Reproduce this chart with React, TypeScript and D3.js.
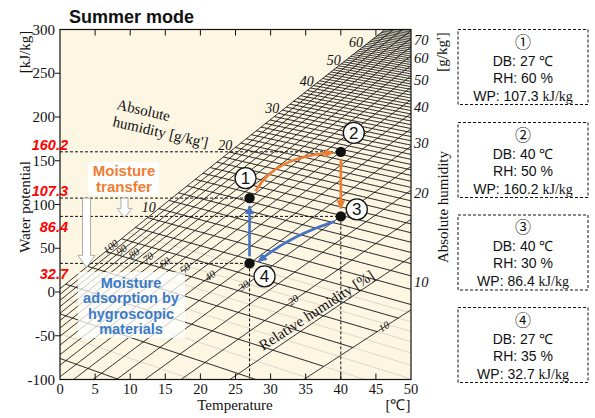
import React from 'react';
import * as d3 from 'd3';

// ---------- data ----------
const tempTicks = [0, 5, 10, 15, 20, 25, 30, 35, 40, 45, 50];
const wpTicks = [300, 250, 200, 150, 100, 50, 0, -50, -100];
const ahAxisLabels = [10, 20, 30, 40, 50, 60, 70];
const ahSatLabels = [10, 20, 30, 40, 50, 60];
const rhLevels = [10, 15, 20, 25, 30, 35, 40, 45, 50, 55, 60, 65, 70, 75, 80, 85, 90, 95, 100];
const rhLabels = [100, 90, 80, 70, 60, 50, 40, 30, 20, 10];
const ahLevels = d3.range(1, 81, 1);
const ahFineLevels = [0.5, 1.5, 2.5, 3.5, 4.5, 5.5, 6.5, 7.5];

const stateNames = ['①', '②', '③', '④'];
const stateDigits = ['1', '2', '3', '4'];
const stateDB = [27, 40, 40, 27];
const stateRH = [60, 50, 30, 35];
const stateWP = [107.3, 160.2, 86.4, 32.7];

// ---------- psychrometric helpers ----------
const psat = (T: number) => 0.61094 * Math.exp((17.625 * T) / (T + 243.04));
const rtm = (T: number) => (8.314 * (T + 273.15)) / 18.015;
const gT = (T: number) => 2.25 - 2.356 * (T - 27);
const mu = (T: number, pv: number) => rtm(T) * Math.log(pv) + gT(T);
const pvFromAH = (a: number) => (a * 101.325) / (622 + a);
const tDew = (pv: number) => {
  const a = Math.log(pv / 0.61094);
  return (243.04 * a) / (17.625 - a);
};

const ORANGE = '#EE7E32';
const BLUE = '#4472C4';
const SERIF = '"Liberation Serif", "Times New Roman", serif';
const SANS = '"Liberation Sans", Arial, sans-serif';

export default function App() {
  const x = d3.scaleLinear().domain([0, 50]).range([60, 411]);
  const y = d3.scaleLinear().domain([-100, 300]).range([379.5, 29.5]);
  const line = d3.line<[number, number]>().x((d) => x(d[0])).y((d) => y(d[1]));
  const [x0, x1] = x.range();
  const [y1, y0] = y.range();

  const sample = (t0: number, t1: number, f: (T: number) => number) => {
    const n = 40;
    const pts: [number, number][] = [];
    for (let i = 0; i <= n; i++) {
      const T = t0 + ((t1 - t0) * i) / n;
      pts.push([T, f(T)]);
    }
    return line(pts) || '';
  };

  const ahPath = (a: number, limitRH: boolean) => {
    const pv = pvFromAH(a);
    const t0 = Math.max(0, tDew(pv));
    const t1 = limitRH ? Math.min(50, tDew(pv * 10)) : 50;
    if (t1 <= t0) return '';
    return sample(t0, t1, (T) => mu(T, pv));
  };

  const rhPath = (rh: number) => sample(0, 50, (T) => mu(T, (rh / 100) * psat(T)));

  const P = stateDB.map((t, i) => [x(t), y(stateWP[i])] as [number, number]);

  const labelOffsets: [number, number][] = [
    [-4, -20],
    [13, -19],
    [16, -7],
    [15, 13],
  ];

  const boxTops = [29.5, 122.5, 215, 307.5];

  const rhLabelPos = rhLabels.map((rh) => {
    const T = tDew(1.02 / (rh / 100));
    const f = (t: number) => mu(t, (rh / 100) * psat(t));
    const px = x(T);
    const py = y(f(T));
    const dx = x(T + 0.5) - px;
    const dy = y(f(T + 0.5)) - py;
    const ang = (Math.atan2(dy, dx) * 180) / Math.PI;
    return { rh, px, py, ang };
  });

  const orangeCurve = `M${P[0][0] + 6},${P[0][1] - 7} Q${P[0][0] + 26},${P[1][1] + 4} ${P[1][0] - 8},${P[1][1] + 1}`;
  const blueCurve = `M${P[2][0] - 6},${P[2][1] + 5} Q${P[3][0] + 40},${P[2][1] + 19} ${P[3][0] + 9},${P[3][1] - 2}`;

  const whiteArrow = (cx: number, top: number, tip: number, hw: number, hh: number, headLen: number) => {
    const hs = tip - headLen;
    return `M${cx - hw},${top} L${cx + hw},${top} L${cx + hw},${hs} L${cx + hh},${hs} L${cx},${tip} L${cx - hh},${hs} L${cx - hw},${hs} Z`;
  };

  return (
    <svg width={595} height={418} style={{ position: 'absolute', left: 0, top: 0, background: '#fff' }}>
      <defs>
        <clipPath id="plot">
          <rect x={x0} y={y0} width={x1 - x0} height={y1 - y0} />
        </clipPath>
        <marker id="arrO" viewBox="0 0 10 10" refX="9" refY="5" markerWidth="9" markerHeight="9" markerUnits="userSpaceOnUse" orient="auto">
          <path d="M0,0 L10,5 L0,10 z" fill={ORANGE} />
        </marker>
        <marker id="arrB" viewBox="0 0 10 10" refX="9" refY="5" markerWidth="9" markerHeight="9" markerUnits="userSpaceOnUse" orient="auto">
          <path d="M0,0 L10,5 L0,10 z" fill={BLUE} />
        </marker>
      </defs>

      <rect x={x0} y={y0} width={x1 - x0} height={y1 - y0} fill="#FDF6E3" />

      <g clipPath="url(#plot)" fill="none">
        {ahLevels.concat(ahFineLevels).map((a) => (
          <path key={'g' + a} d={ahPath(a, false)} stroke="#cfccc3" strokeWidth={0.7} />
        ))}
        {ahLevels.map((a) => (
          <path key={'a' + a} d={ahPath(a, true)} stroke="#111" strokeWidth={0.85} />
        ))}
        {rhLevels.map((rh) => (
          <path key={'r' + rh} d={rhPath(rh)} stroke="#111" strokeWidth={0.85} />
        ))}
      </g>

      {rhLabelPos.map((d) => (
        <text
          key={'rl' + d.rh}
          transform={`translate(${d.px},${d.py}) rotate(${d.ang})`}
          textAnchor="middle"
          dy={3}
          fontFamily={SERIF}
          fontStyle="italic"
          fontSize={10.5}
          fill="#111"
        >
          {d.rh}
        </text>
      ))}

      {ahSatLabels.map((a) => {
        const pv = pvFromAH(a);
        const T = tDew(pv);
        return (
          <text key={'sl' + a} x={x(T) - 3} y={y(mu(T, pv)) + 3} textAnchor="end" fontFamily={SERIF} fontStyle="italic" fontSize={14} fill="#111">
            {a}
          </text>
        );
      })}

      <text transform="translate(116,109) rotate(13)" fontFamily={SERIF} fontSize={15} fill="#111">Absolute</text>
      <text transform="translate(112,126) rotate(13)" fontFamily={SERIF} fontSize={15} fill="#111">humidity [g/kg']</text>
      <text transform="translate(263,351) rotate(-33)" fontFamily={SERIF} fontSize={15} fill="#111">Relative humidity [%]</text>

      <g stroke="#111" strokeWidth={1} strokeDasharray="3,2" fill="none">
        {P.map((p, i) => (
          <line key={'h' + i} x1={x0} x2={p[0]} y1={p[1]} y2={p[1]} />
        ))}
        {[P[2], P[3]].map((p, i) => (
          <line key={'v' + i} x1={p[0]} x2={p[0]} y1={p[1]} y2={y1} />
        ))}
      </g>

      <rect x={88} y={162} width={71} height={33} fill="#fff" />
      <text x={124} y={176} textAnchor="middle" fontFamily={SANS} fontWeight="bold" fontSize={15} fill={ORANGE}>Moisture</text>
      <text x={124} y={192} textAnchor="middle" fontFamily={SANS} fontWeight="bold" fontSize={15} fill={ORANGE}>transfer</text>

      <rect x={78} y={272} width={107} height={66} fill="#fff" fillOpacity={0.75} />
      {['Moisture', 'adsorption by', 'hygroscopic', 'materials'].map((t, i) => (
        <text key={t} x={131} y={288 + i * 15.3} textAnchor="middle" fontFamily={SANS} fontWeight="bold" fontSize={14.5} fill="#3A7BC8">
          {t}
        </text>
      ))}

      <path d={whiteArrow(86.5, y(stateWP[0]), y(stateWP[3]) + 4, 4, 8.5, 12)} fill="#fff" stroke="#9a9a9a" strokeWidth={0.8} />
      <path d={whiteArrow(124.5, y(stateWP[0]), y(stateWP[2]) + 1, 3.5, 7.5, 9)} fill="#fff" stroke="#9a9a9a" strokeWidth={0.8} />

      <g fill="none" strokeWidth={2.6}>
        <path d={orangeCurve} stroke={ORANGE} markerEnd="url(#arrO)" />
        <line x1={P[1][0]} x2={P[1][0]} y1={P[1][1] + 7} y2={P[2][1] - 8} stroke={ORANGE} markerEnd="url(#arrO)" />
        <path d={blueCurve} stroke={BLUE} markerEnd="url(#arrB)" />
        <line x1={P[3][0]} x2={P[3][0]} y1={P[3][1] - 7} y2={P[0][1] + 8} stroke={BLUE} markerEnd="url(#arrB)" />
      </g>

      {P.map((p, i) => (
        <circle key={'p' + i} cx={p[0]} cy={p[1]} r={5.2} fill="#111" />
      ))}
      {P.map((p, i) => (
        <g key={'c' + i} transform={`translate(${p[0] + labelOffsets[i][0]},${p[1] + labelOffsets[i][1]})`}>
          <circle r={10.5} fill="#fff" stroke="#111" strokeWidth={1.3} />
          <text textAnchor="middle" dy={6} fontFamily={SANS} fontSize={17} fill="#111">{stateDigits[i]}</text>
        </g>
      ))}

      <rect x={x0} y={y0} width={x1 - x0} height={y1 - y0} fill="none" stroke="#111" strokeWidth={1.2} />

      <g stroke="#111" strokeWidth={1}>
        {tempTicks.slice(1, -1).map((t) => (
          <g key={'tt' + t}>
            <line x1={x(t)} x2={x(t)} y1={y0} y2={y0 + 6} />
            <line x1={x(t)} x2={x(t)} y1={y1} y2={y1 - 6} />
          </g>
        ))}
        {wpTicks.slice(1, -1).map((v) => (
          <line key={'wt' + v} x1={x0 - 5} x2={x0} y1={y(v)} y2={y(v)} />
        ))}
      </g>

      {tempTicks.map((t) => (
        <text key={'tl' + t} x={x(t)} y={394} textAnchor="middle" fontFamily={SERIF} fontSize={14.5} fill="#111">{t}</text>
      ))}
      {wpTicks.map((v) => (
        <text key={'wl' + v} x={x0 - 5} y={y(v) + 5} textAnchor="end" fontFamily={SERIF} fontSize={15} fill="#111">{v}</text>
      ))}
      {ahAxisLabels.map((a) => (
        <text key={'al' + a} x={414} y={y(mu(50, pvFromAH(a))) + 11} fontFamily={SERIF} fontStyle="italic" fontSize={14.5} fill="#111">{a}</text>
      ))}

      {stateWP.map((v, i) => (
        <text
          key={'rv' + i}
          x={68}
          y={y(v) + (v === 160.2 || v === 107.3 ? -2 : 16)}
          textAnchor="end"
          fontFamily={SANS}
          fontWeight="bold"
          fontStyle="italic"
          fontSize={14.5}
          fill="#FF0000"
        >
          {v.toFixed(1)}
        </text>
      ))}

      <text x={69} y={23} fontFamily={SANS} fontWeight="bold" fontSize={18} fill="#111">Summer mode</text>
      <text x={235} y={410} textAnchor="middle" fontFamily={SERIF} fontSize={15} fill="#111">Temperature</text>
      <text x={398} y={410} textAnchor="middle" fontFamily={SERIF} fontSize={15} fill="#111">[℃]</text>
      <text transform="translate(30,52) rotate(-90)" textAnchor="middle" fontFamily={SERIF} fontSize={15} fill="#111">[kJ/kg]</text>
      <text transform="translate(30,207) rotate(-90)" textAnchor="middle" fontFamily={SERIF} fontSize={15} fill="#111">Water potential</text>
      <text transform="translate(447,52) rotate(-90)" textAnchor="middle" fontFamily={SERIF} fontSize={15} fill="#111">[g/kg']</text>
      <text transform="translate(448,207) rotate(-90)" textAnchor="middle" fontFamily={SERIF} fontSize={15} fill="#111">Absolute humidity</text>

      {boxTops.map((top, i) => (
        <g key={'b' + i}>
          <rect x={458} y={top} width={130} height={75} fill="#fff" stroke="#111" strokeWidth={1} strokeDasharray="3,2" />
          <text x={523} y={top + 18} textAnchor="middle" fontFamily={'"Noto Sans CJK JP", "DejaVu Sans", sans-serif'} fontSize={16} fill="#111">{stateNames[i]}</text>
          <text x={523} y={top + 36} textAnchor="middle" fontFamily={SANS} fontSize={14} fill="#111">
            DB: {stateDB[i]} <tspan fontFamily={SERIF}>℃</tspan>
          </text>
          <text x={523} y={top + 53} textAnchor="middle" fontFamily={SANS} fontSize={14} fill="#111">RH: {stateRH[i]} %</text>
          <text x={523} y={top + 71} textAnchor="middle" fontFamily={SANS} fontSize={14} fill="#111">
            WP: {stateWP[i].toFixed(1)} <tspan fontFamily={SERIF}>kJ/kg</tspan>
          </text>
        </g>
      ))}
    </svg>
  );
}
